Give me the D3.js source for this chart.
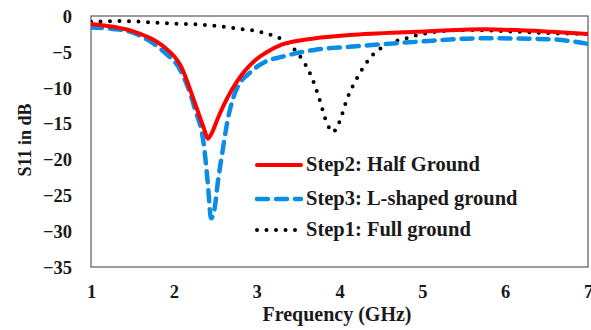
<!DOCTYPE html>
<html>
<head>
<meta charset="utf-8">
<script src="https://cdn.jsdelivr.net/npm/d3@7"></script>
<style>
  body { margin: 0; background: #fff; }
  text { font-family: "Liberation Serif", "Times New Roman", serif; font-weight: bold; fill: #1a1a1a; }
</style>
</head>
<body>
<script>

// S11 curves, [GHz, dB]
var step2 = [[1.0, -1.1], [1.27, -1.5], [1.5, -2.1], [1.68, -2.9], [1.88, -4.3], [2.09, -7.1], [2.25, -12.0], [2.37, -15.9], [2.41, -17.1], [2.45, -16.5], [2.53, -14.3], [2.60, -12.5], [2.70, -10.3], [2.80, -8.5], [2.90, -7.1], [3.0, -6.0], [3.10, -5.2], [3.30, -4.0], [3.71, -3.1], [4.12, -2.65], [4.93, -2.2], [5.74, -1.86], [6.56, -2.2], [7.0, -2.5]];
var step3 = [[1.0, -1.6], [1.27, -1.8], [1.5, -2.3], [1.68, -3.3], [1.88, -5.0], [2.09, -7.8], [2.25, -12.8], [2.37, -18.7], [2.41, -23.3], [2.45, -28.2], [2.49, -27.0], [2.53, -23.3], [2.59, -18.7], [2.65, -14.5], [2.72, -11.3], [2.80, -9.3], [2.90, -8.1], [3.0, -7.1], [3.10, -6.4], [3.30, -5.7], [3.71, -4.7], [4.12, -4.3], [4.93, -3.6], [5.74, -3.1], [6.56, -3.25], [7.0, -3.9]];
var step1 = [[1.0, -0.8], [1.37, -0.7], [1.88, -1.0], [2.37, -1.25], [2.73, -1.7], [3.10, -2.4], [3.35, -3.6], [3.51, -5.4], [3.67, -8.7], [3.75, -11.3], [3.85, -15.0], [3.92, -16.2], [3.99, -15.0], [4.10, -11.3], [4.20, -8.9], [4.38, -5.7], [4.57, -4.0], [4.81, -3.1], [5.05, -2.4], [5.54, -1.95], [6.15, -2.2], [6.56, -2.4], [7.0, -2.5]];

var xTicks = [1, 2, 3, 4, 5, 6, 7];
var yTicks = [0, -5, -10, -15, -20, -25, -30, -35];
var legendNames = ["Step2: Half Ground", "Step3: L-shaped ground", "Step1: Full ground"];

var W = 591, H = 330;
var pLeft = 91, pRight = 588, pTop = 16, pBottom = 267;   // window.top is read-only, hence the p prefix

var svg = d3.select("body").append("svg")
	.attr("width", W)
	.attr("height", H);

var x = d3.scaleLinear().domain([1, 7]).range([pLeft, pRight]);
var y = d3.scaleLinear().domain([-35, 0]).range([pBottom, pTop]);

svg.append("clipPath").attr("id", "plot")
	.append("rect")
	.attr("x", pLeft).attr("y", pTop - 4)
	.attr("width", pRight - pLeft).attr("height", pBottom - pTop + 4);

// axes, no tick marks like the excel original
svg.append("g")
	.attr("transform", "translate(" + (pLeft - 16) + ",0)")
	.call(d3.axisLeft(y).tickValues(yTicks).tickSize(0).tickFormat(d3.format("d")))
	.call(function(g){ g.select(".domain").remove(); })
	.selectAll("text")
		.style("font-size", "18.5px")
		.attr("dy", "0.34em");

svg.append("g")
	.attr("transform", "translate(0," + (pBottom + 15) + ")")
	.call(d3.axisBottom(x).tickValues(xTicks).tickSize(0).tickFormat(d3.format("d")))
	.call(function(g){ g.select(".domain").remove(); })
	.selectAll("text")
		.style("font-size", "18.5px")
		.attr("dy", "0.71em");

svg.selectAll(".tick text").attr("fill", "#1a1a1a");

svg.append("rect")
	.attr("x", pLeft).attr("y", pTop)
	.attr("width", pRight - pLeft).attr("height", pBottom - pTop)
	.attr("fill", "none")
	.attr("stroke", "#595959")
	.attr("stroke-width", 1.2);

var line = d3.line()
	.x(function(d){ return x(d[0]); })
	.y(function(d){ return y(d[1]); })
	.curve(d3.curveMonotoneX);

var series = [
	{ data: step2, color: "#ff0000", width: 4, dash: null },
	{ data: step3, color: "#0a8de6", width: 4.5, dash: "11 8" },
	{ data: step1, color: "#000000", width: 4, dash: "0 9.5" }
];

// dotted first, then dashed, red on top
var order = [2, 1, 0];
var lines = svg.append("g").attr("clip-path", "url(#plot)");
order.forEach(function(i){
	var s = series[i];
	lines.append("path")
		.datum(s.data)
		.attr("d", line)
		.attr("fill", "none")
		.attr("stroke", s.color)
		.attr("stroke-width", s.width)
		.attr("stroke-dasharray", s.dash)
		.attr("stroke-linecap", "round")
		.attr("stroke-linejoin", "round");
});

// legend
var legendY = [165, 199, 230];
var leg = svg.append("g");
series.forEach(function(s, i){
	leg.append("line")
		.attr("x1", 257).attr("x2", 301)
		.attr("y1", legendY[i]).attr("y2", legendY[i])
		.attr("stroke", s.color)
		.attr("stroke-width", s.width)
		.attr("stroke-dasharray", s.dash)
		.attr("stroke-linecap", "round");
	leg.append("text")
		.attr("x", 306)
		.attr("y", legendY[i] + 6)
		.style("font-size", "20.5px")
		.text(legendNames[i]);
});

svg.append("text")
	.attr("x", 337).attr("y", 321)
	.attr("text-anchor", "middle")
	.style("font-size", "20px")
	.text("Frequency (GHz)");

svg.append("text")
	.attr("transform", "translate(31,140) rotate(-90)")
	.attr("text-anchor", "middle")
	.style("font-size", "18px")
	.text("S11 in dB");

</script>
</body>
</html>
